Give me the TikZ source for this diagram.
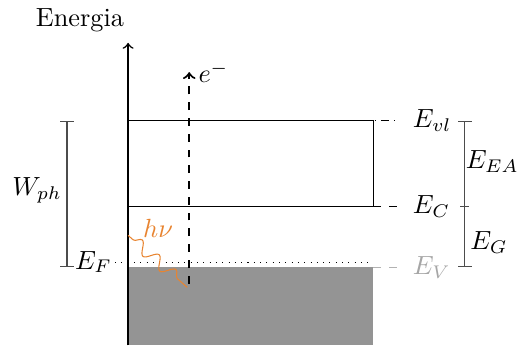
\documentclass[tikz,border=0pt]{standalone}
\usepackage{amsmath, amssymb}
\usepackage{xcolor}
\usepackage{tikz}
\usetikzlibrary{calc, positioning, decorations.pathmorphing}
\definecolor{foton}{RGB}{232,132,48}

\begin{document}
\begin{tikzpicture}[>=to, scale=0.87]
    \useasboundingbox (-1.97,0) rectangle (6.15,5.31);
    % 1. Banda de valencia
    \fill[black!42] (0,0) rectangle (3.77,1.2);

    % 2. Eixo de energia
    \coordinate (O) at (0,0);
    \coordinate (topo) at (0,4.65);
    \draw[->, semithick] (O) -- (topo);
    \node (energia) at (-0.74,5.0) {Energia};

    % 3. Niveis
    \coordinate (vl0) at (0,3.45);
    \coordinate (vl1) at (3.77,3.45);
    \coordinate (vl2) at (4.18,3.45);
    \coordinate (c0) at (0,2.14);
    \coordinate (c1) at (3.77,2.14);
    \coordinate (c2) at (4.18,2.14);
    \coordinate (v1) at (3.77,1.2);
    \coordinate (v2) at (4.18,1.2);
    \draw[thin] (vl0) -- (vl1) -- (c1) -- (c0);
    \draw[dash dot] (vl0) -- (vl2);
    \draw[dashed] (c1) -- (c2);
    \draw[dashed, gray!60] (v1) -- (v2);
    \node[right=0.05cm of vl2] (Evl) {$E_{vl}$};
    \node[right=0.05cm of c2] (Ec) {$E_C$};
    \node[right=0.05cm of v2, gray!70] (Ev) {$E_V$};
    \node[anchor=east, inner sep=1pt] (Ef) at (-0.2,1.28) {$E_F$};
    \coordinate (f1) at (3.72,1.28);
    \draw[dotted, thin] (Ef.east |- f1) -- (f1);

    % 4. Eletron
    \coordinate (e0) at (0.94,0.95);
    \coordinate (e1) at (0.94,4.2);
    \draw[->, dashed, thick] (e0) -- (e1);
    \node[right=0 of e1] (el) {$e^{-}$};

    % 5. Foton
    \coordinate (h0) at (0,1.69);
    \coordinate (h1) at (0.91,0.89);
    \draw[foton, decorate, decoration={snake, segment length=3mm,
        amplitude=0.8mm, pre length=0.9mm, post length=0.9mm}] (h0) -- (h1);
    \node[foton] (hv) at (0.46,1.8) {$h\nu$};

    % 6. Cotas
    \coordinate (w0) at (-0.94,1.2);
    \coordinate (w1) at (-0.94,3.45);
    \draw[|-|, black!70] (w0) -- (w1);
    \node (Wph) at (-1.4,2.38) {$W_{ph}$};
    \coordinate (g0) at (5.18,1.2);
    \coordinate (g1) at (5.18,2.14);
    \coordinate (g2) at (5.18,3.45);
    \draw[|-|, black!70] (g0) -- (g2);
    \draw[black!70] ($(g1)+(-2pt,0)$) -- ($(g1)+(2pt,0)$);
    \node (Eea) at (5.6,2.82) {$E_{EA}$};
    \node (Eg) at (5.55,1.58) {$E_G$};
\end{tikzpicture}
\end{document}
